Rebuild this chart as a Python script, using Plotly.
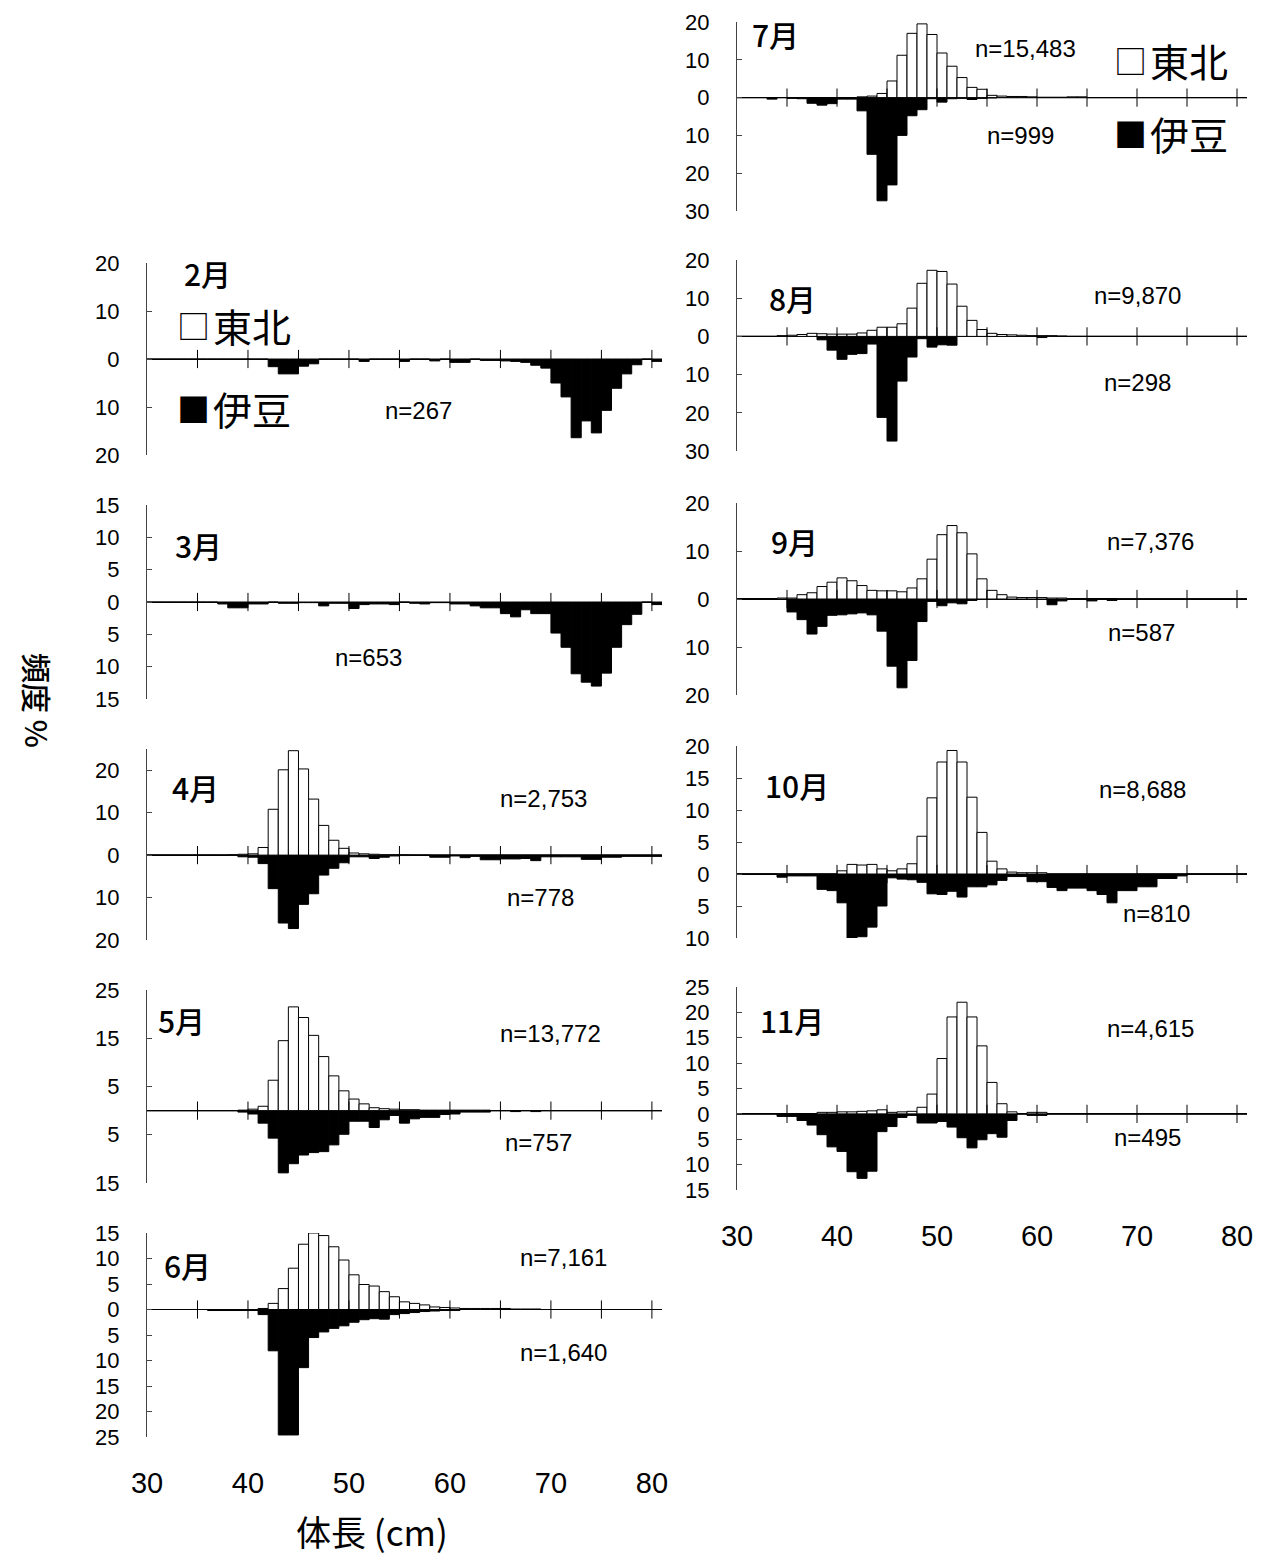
import numpy as np
import plotly.graph_objects as go

W, H = 1263, 1559
OFF = 8  # page body margin of the browser, compensated in all positions

# ---------------- data (1 cm length classes, 30..80 cm) ----------------
BINS = list(range(30, 81))
X_TICKS = [35, 40, 45, 50, 55, 60, 65, 70, 75, 80]
X_LABELS = [30, 40, 50, 60, 70, 80]

MONTHS = ["2月", "3月", "4月", "5月", "6月", "7月", "8月", "9月", "10月", "11月"]
N_TOHOKU = [None, None, "n=2,753", "n=13,772", "n=7,161", "n=15,483", "n=9,870", "n=7,376", "n=8,688", "n=4,615"]
N_IZU = ["n=267", "n=653", "n=778", "n=757", "n=1,640", "n=999", "n=298", "n=587", "n=810", "n=495"]

TOHOKU_FEB = []
IZU_FEB = [
    0, 0, 0, 0, 0, 0, 0, 0, 0, 0,
    0, 0, 1.6, 3.1, 3.1, 1.5, 1.0, 0, 0, 0,
    0, 0.5, 0, 0, 0, 0.5, 0, 0, 0.4, 0,
    0.7, 0.7, 0, 0.3, 0.3, 0.4, 0.5, 0.7, 1.3, 1.9,
    5.0, 7.9, 16.4, 12.9, 15.4, 10.7, 6.1, 3.1, 1.2, 0,
    0.5]

TOHOKU_MAR = []
IZU_MAR = [
    0, 0, 0, 0, 0, 0, 0, 0.3, 0.9, 0.9,
    0.3, 0.3, 0, 0.2, 0.2, 0.1, 0.1, 0.6, 0.2, 0.2,
    1.0, 0.4, 0.3, 0.3, 0.4, 0, 0.2, 0.3, 0.1, 0.1,
    0.3, 0.3, 0.6, 0.9, 0.9, 1.8, 2.3, 1.2, 1.8, 1.8,
    4.8, 7.0, 11.1, 12.4, 13.0, 11.0, 7.0, 3.5, 1.9, 0,
    0.4]

TOHOKU_APR = [
    0, 0, 0, 0, 0, 0, 0, 0, 0.1, 0.2,
    0.3, 1.8, 10.8, 20.1, 24.6, 20.3, 13.2, 7.0, 3.5, 1.6,
    0.5, 0.3, 0.2, 0.1, 0.1, 0.1, 0, 0, 0, 0,
    0, 0, 0, 0, 0, 0, 0, 0, 0, 0,
    0, 0, 0, 0, 0, 0, 0, 0, 0, 0,
    0]
IZU_APR = [
    0, 0, 0, 0, 0, 0, 0, 0, 0, 0.4,
    0.5, 2.0, 7.9, 16.0, 17.3, 11.6, 9.1, 4.7, 3.1, 1.8,
    0.4, 0.4, 0.8, 0.5, 0.2, 0.1, 0, 0, 0.5, 0.5,
    0.2, 0.6, 0.3, 1.1, 1.1, 0.9, 0.9, 0.8, 1.3, 0.4,
    0.4, 0.4, 0.4, 1.0, 1.0, 0.5, 0.5, 0.3, 0.3, 0.3,
    0.3]

TOHOKU_MAY = [
    0, 0, 0, 0, 0, 0, 0, 0, 0, 0.1,
    0.3, 0.9, 6.3, 14.5, 21.5, 19.3, 15.6, 11.2, 7.2, 4.1,
    2.4, 1.4, 0.6, 0.4, 0.3, 0.2, 0.2, 0.1, 0.1, 0.1,
    0.1, 0.1, 0.1, 0.1, 0, 0, 0, 0, 0, 0,
    0, 0, 0, 0, 0, 0, 0, 0, 0, 0,
    0]
IZU_MAY = [
    0, 0, 0, 0, 0, 0, 0, 0, 0, 0.3,
    0.7, 2.6, 5.7, 12.9, 11.0, 9.2, 8.7, 8.5, 7.1, 4.9,
    2.2, 2.2, 3.5, 1.9, 1.0, 2.6, 1.7, 1.4, 1.4, 0.8,
    0.7, 0.3, 0.3, 0.3, 0, 0, 0.2, 0, 0.2, 0,
    0, 0, 0, 0, 0, 0, 0, 0, 0, 0,
    0]

TOHOKU_JUN = [
    0, 0, 0, 0, 0, 0, 0, 0, 0, 0,
    0, 0.2, 1.2, 4.1, 8.1, 12.8, 15.0, 14.5, 12.3, 9.7,
    6.8, 4.9, 4.6, 3.5, 2.5, 1.5, 1.2, 0.9, 0.5, 0.4,
    0.3, 0.2, 0.2, 0.2, 0.2, 0.2, 0.1, 0.1, 0.1, 0,
    0, 0, 0, 0, 0, 0, 0, 0, 0, 0,
    0]
IZU_JUN = [
    0, 0, 0, 0, 0, 0, 0.2, 0.2, 0.2, 0.2,
    0.2, 1.0, 8.1, 24.6, 24.6, 11.4, 5.5, 4.4, 3.7, 3.2,
    2.5, 2.0, 1.8, 1.9, 1.0, 0.8, 0.6, 0.4, 0.3, 0.2,
    0.2, 0, 0, 0, 0, 0, 0, 0, 0, 0,
    0, 0, 0, 0, 0, 0, 0, 0, 0, 0,
    0]

TOHOKU_JUL = [
    0, 0, 0, 0, 0, 0, 0, 0, 0, 0,
    0, 0, 0.2, 0.4, 1.1, 4.4, 11.2, 17.0, 19.5, 16.7,
    11.8, 8.3, 5.3, 2.7, 2.2, 0.6, 0.4, 0.3, 0.3, 0.2,
    0.1, 0.1, 0.1, 0.2, 0.2, 0, 0, 0, 0, 0,
    0, 0, 0, 0, 0, 0, 0, 0, 0, 0,
    0]
IZU_JUL = [
    0, 0, 0, 0.4, 0, 0.2, 0.3, 1.5, 2.0, 1.6,
    0.4, 0.4, 3.5, 15.0, 27.3, 23.1, 10.0, 4.8, 3.2, 0.3,
    1.2, 0.3, 0.2, 0.5, 0.2, 0.1, 0, 0, 0, 0,
    0, 0, 0, 0, 0, 0, 0, 0, 0, 0,
    0, 0, 0, 0, 0, 0, 0, 0, 0, 0,
    0]

TOHOKU_AUG = [
    0, 0, 0, 0, 0.2, 0.3, 0.5, 0.8, 0.7, 0.6,
    0.6, 0.6, 0.9, 1.6, 2.4, 2.4, 3.3, 7.4, 13.9, 17.3,
    17.0, 13.7, 7.9, 4.2, 1.8, 0.8, 0.5, 0.4, 0.3, 0.2,
    0.2, 0.2, 0.1, 0, 0, 0, 0, 0, 0, 0,
    0, 0, 0, 0, 0, 0, 0, 0, 0, 0,
    0]
IZU_AUG = [
    0, 0, 0, 0, 0, 0, 0, 0, 0.9, 3.6,
    6.0, 4.7, 4.5, 2.0, 21.2, 27.4, 11.7, 5.4, 0.6, 2.8,
    2.2, 2.3, 0, 0, 0, 0, 0, 0, 0, 0,
    0.3, 0, 0, 0, 0, 0, 0, 0, 0, 0,
    0, 0, 0, 0, 0, 0, 0, 0, 0, 0,
    0]

TOHOKU_SEP = [
    0.1, 0.1, 0.1, 0.1, 0.2, 0.2, 0.9, 1.3, 2.6, 3.5,
    4.4, 3.8, 2.8, 1.8, 1.7, 1.7, 1.5, 2.3, 4.2, 8.3,
    13.4, 15.3, 13.8, 9.4, 4.2, 1.8, 0.9, 0.4, 0.3, 0.3,
    0.3, 0.2, 0.2, 0.1, 0.1, 0.1, 0.1, 0.1, 0, 0,
    0, 0, 0, 0, 0, 0, 0, 0, 0, 0,
    0]
IZU_SEP = [
    0, 0, 0, 0, 0, 2.7, 4.3, 7.3, 5.7, 3.4,
    3.3, 3.1, 2.9, 3.3, 6.7, 14.0, 18.5, 12.8, 4.7, 0.5,
    1.4, 0.8, 1.0, 0.3, 0, 0, 0, 0, 0, 0,
    0, 1.2, 0.4, 0, 0, 0.4, 0, 0.3, 0, 0,
    0, 0, 0, 0, 0, 0, 0, 0, 0, 0,
    0]

TOHOKU_OCT = [
    0, 0, 0, 0, 0, 0, 0, 0, 0, 0,
    0.5, 1.5, 1.4, 1.5, 0.8, 0.5, 0.8, 1.6, 5.9, 11.9,
    17.5, 19.3, 17.5, 12.0, 6.5, 2.0, 0.8, 0.3, 0.2, 0.2,
    0.2, 0, 0, 0, 0, 0, 0, 0, 0, 0,
    0, 0, 0, 0, 0, 0, 0, 0, 0, 0,
    0]
IZU_OCT = [
    0, 0, 0, 0, 0.5, 0.3, 0.3, 0.3, 2.4, 2.6,
    4.5, 10.0, 9.8, 8.3, 5.0, 0.6, 0.8, 0.9, 1.3, 3.1,
    3.2, 2.7, 3.6, 2.0, 2.0, 1.7, 1.0, 0.4, 0.4, 1.2,
    1.2, 2.1, 2.6, 2.2, 2.2, 2.6, 3.2, 4.5, 2.6, 2.6,
    2.0, 2.0, 0.7, 0.7, 0.3, 0, 0, 0, 0, 0,
    0]

TOHOKU_NOV = [
    0, 0, 0, 0, 0, 0, 0, 0, 0.3, 0.3,
    0.4, 0.4, 0.5, 0.6, 0.8, 0.3, 0.4, 0.5, 1.3, 3.9,
    10.9, 19.1, 22.0, 19.1, 13.4, 6.2, 2.0, 0.4, 0, 0.3,
    0.3, 0, 0, 0, 0, 0, 0, 0, 0, 0,
    0, 0, 0, 0, 0, 0, 0, 0, 0, 0,
    0]
IZU_NOV = [
    0, 0, 0, 0, 0.5, 0.5, 1.3, 2.2, 4.1, 6.5,
    7.4, 11.4, 12.7, 11.3, 3.5, 2.5, 0.7, 0.3, 1.8, 1.8,
    1.5, 2.6, 4.7, 6.7, 5.1, 3.9, 4.6, 1.3, 0, 0.3,
    0.3, 0, 0, 0, 0, 0, 0, 0, 0, 0,
    0, 0, 0, 0, 0, 0, 0, 0, 0, 0,
    0]

# y-axis ranges / tick values of each panel (labels shown as absolute values)
Y_RANGE = [(-20, 20), (-15, 15), (-20, 25), (-15, 25), (-25, 15),
           (-30, 20), (-30, 20), (-20, 20), (-10, 20), (-15, 25)]
Y_TICKS = [
    [-20, -10, 0, 10, 20],
    [-15, -10, -5, 0, 5, 10, 15],
    [-20, -10, 0, 10, 20],
    [-15, -5, 5, 15, 25],
    [-25, -20, -15, -10, -5, 0, 5, 10, 15],
    [-30, -20, -10, 0, 10, 20],
    [-30, -20, -10, 0, 10, 20],
    [-20, -10, 0, 10, 20],
    [-10, -5, 0, 5, 10, 15, 20],
    [-15, -10, -5, 0, 5, 10, 15, 20, 25],
]

TOHOKU = [TOHOKU_FEB, TOHOKU_MAR, TOHOKU_APR, TOHOKU_MAY, TOHOKU_JUN,
          TOHOKU_JUL, TOHOKU_AUG, TOHOKU_SEP, TOHOKU_OCT, TOHOKU_NOV]
IZU = [IZU_FEB, IZU_MAR, IZU_APR, IZU_MAY, IZU_JUN,
       IZU_JUL, IZU_AUG, IZU_SEP, IZU_OCT, IZU_NOV]

# ---------------- layout (pixel geometry, screen coordinates) ----------------
COL_X = [(147, 662), (737, 1247)]
PANEL_POS = [  # column, top px, bottom px
    (0, 263, 455), (0, 505, 699), (0, 749, 940), (0, 990, 1183), (0, 1233, 1437),
    (1, 22, 211), (1, 260, 451), (1, 503, 695), (1, 746, 938), (1, 987, 1190),
]
MONTH_POS = [(207, 273), (198, 545), (196, 787), (181, 1020), (187, 1265),
             (775, 34), (792, 298), (794, 541), (797, 785), (792, 1020)]
NT_POS = [None, None, (543, 798), (550, 1033), (563, 1257),
          (1025, 48), (1137, 295), (1150, 541), (1142, 789), (1150, 1028)]
NI_POS = [(418, 410), (368, 657), (540, 897), (538, 1142), (563, 1352),
          (1020, 135), (1137, 382), (1141, 633), (1156, 914), (1147, 1137)]
# legend keys: (symbol x, text x, y, symbol, label)
KEYS = [(175, 211, 325, "□", "東北"), (175, 211, 408, "■", "伊豆"),
        (1112, 1148, 60, "□", "東北"), (1112, 1148, 133, "■", "伊豆")]

NUM_FONT = "Liberation Sans, Arial, sans-serif"
JP_FONT = "Noto Sans CJK JP, sans-serif"


def fx(px):
    return (px - OFF) / W


def fy(py):
    return 1 - (py - OFF) / H


centers = np.array(BINS, dtype=float) + 0.5

fig = go.Figure()
layout = dict(
    template="none",
    width=W, height=H, margin=dict(l=0, r=0, t=0, b=0, pad=0, autoexpand=False),
    paper_bgcolor="white", plot_bgcolor="white",
    barmode="relative", showlegend=False,
)
annotations = []

for i in range(10):
    k = i + 1
    xs = "" if k == 1 else str(k)
    xa, ya = "x" + xs, "y" + xs
    col, top, bot = PANEL_POS[i]
    x0, x1 = COL_X[col]
    bottom_panel = (i == 4 or i == 9)

    izu = np.array(IZU[i], dtype=float)
    fig.add_trace(go.Bar(
        x=centers, y=-izu, width=1.0, xaxis=xa, yaxis=ya,
        marker=dict(color="black", line=dict(color="black", width=1)),
        name="伊豆", hoverinfo="skip"))
    if len(TOHOKU[i]):
        toh = np.array(TOHOKU[i], dtype=float)
        fig.add_trace(go.Bar(
            x=centers, y=toh, width=1.0, xaxis=xa, yaxis=ya,
            marker=dict(color="white", line=dict(color="black", width=1)),
            name="東北", hoverinfo="skip"))
    # cross-shaped tick marks on the zero line
    fig.add_trace(go.Scatter(
        x=X_TICKS, y=[0] * len(X_TICKS), xaxis=xa, yaxis=ya, mode="markers",
        marker=dict(symbol="line-ns", size=13, color="black",
                    line=dict(color="black", width=1)),
        hoverinfo="skip", cliponaxis=False))

    layout["xaxis" + xs] = dict(
        domain=[fx(x0), fx(x1)], range=[30, 81], anchor=ya, automargin=False,
        showline=False, showgrid=False, zeroline=False, ticks="",
        showticklabels=bottom_panel, tickvals=X_LABELS,
        ticktext=[str(v) for v in X_LABELS],
        tickfont=dict(family=NUM_FONT, size=29, color="black"),
        ticklabelstandoff=26, ticklabeloverflow="allow",
    )
    yt = Y_TICKS[i]
    layout["yaxis" + xs] = dict(
        domain=[fy(bot), fy(top)], range=list(Y_RANGE[i]), anchor=xa,
        automargin=False,
        showline=True, linecolor="#444", linewidth=1, mirror=False,
        ticks="inside", ticklen=5, tickcolor="#444", tickwidth=1,
        tickvals=yt, ticktext=[str(abs(v)) for v in yt],
        tickfont=dict(family=NUM_FONT, size=22, color="black"),
        ticklabelstandoff=22, ticklabeloverflow="allow",
        showgrid=False, zeroline=True, zerolinecolor="black", zerolinewidth=1,
    )

    mx, my = MONTH_POS[i]
    annotations.append(dict(text=MONTHS[i], x=fx(mx), y=fy(my), xref="paper", yref="paper",
                            showarrow=False, xanchor="center", yanchor="middle",
                            font=dict(family=JP_FONT, size=30, color="black", weight=500)))
    if N_TOHOKU[i]:
        nx, ny = NT_POS[i]
        annotations.append(dict(text=N_TOHOKU[i], x=fx(nx), y=fy(ny), xref="paper", yref="paper",
                                showarrow=False, xanchor="center", yanchor="middle",
                                font=dict(family=NUM_FONT, size=24, color="black")))
    nx, ny = NI_POS[i]
    annotations.append(dict(text=N_IZU[i], x=fx(nx), y=fy(ny), xref="paper", yref="paper",
                            showarrow=False, xanchor="center", yanchor="middle",
                            font=dict(family=NUM_FONT, size=24, color="black")))

# legend-like keys
for (sx, tx, ky, sym, lab) in KEYS:
    annotations.append(dict(text=sym, x=fx(sx), y=fy(ky), xref="paper", yref="paper",
                            showarrow=False, xanchor="left", yanchor="middle",
                            font=dict(family=JP_FONT, size=33, color="black")))
    annotations.append(dict(text=lab, x=fx(tx), y=fy(ky), xref="paper", yref="paper",
                            showarrow=False, xanchor="left", yanchor="middle",
                            font=dict(family=JP_FONT, size=39, color="black")))

# axis titles
annotations.append(dict(text="頻度 %", x=fx(38), y=fy(700), xref="paper", yref="paper",
                        showarrow=False, textangle=90, xanchor="center", yanchor="middle",
                        font=dict(family=JP_FONT, size=30, color="black", weight=500)))
annotations.append(dict(text="体長 (cm)", x=fx(372), y=fy(1530), xref="paper", yref="paper",
                        showarrow=False, xanchor="center", yanchor="middle",
                        font=dict(family=JP_FONT, size=35, color="black")))

layout["annotations"] = annotations
fig.update_layout(**layout)
fig.write_html("out.html")
